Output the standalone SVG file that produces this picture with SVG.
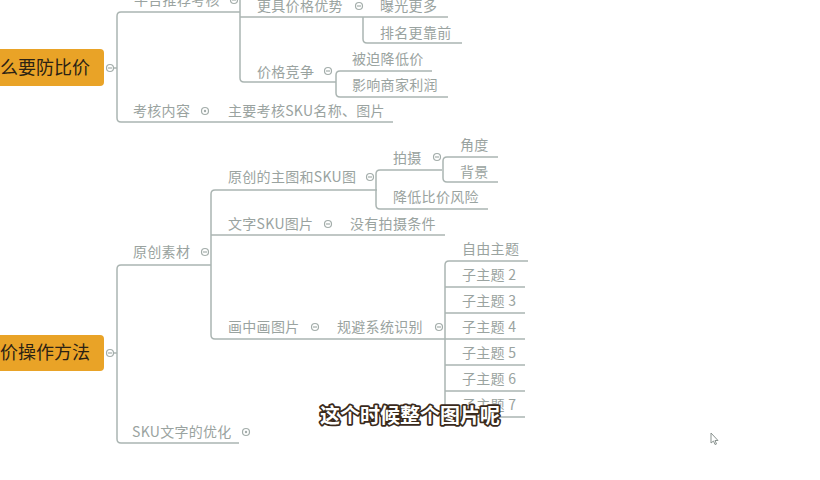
<svg xmlns="http://www.w3.org/2000/svg" width="820" height="480" viewBox="0 0 820 480">
<style>
.t{font-family:"Noto Sans CJK SC","Liberation Sans",sans-serif;font-size:14px;fill:#9aa3a0;letter-spacing:0.3px}
.r{font-family:"Noto Sans CJK SC","Liberation Sans",sans-serif;font-size:18px;fill:#2b2214}
.ln{fill:none;stroke:#abb5b2;stroke-width:1.5}
.box{fill:#E9A327}
.c{fill:#fff;stroke:#a3adaa;stroke-width:1.2}
.m{stroke:#a3adaa;stroke-width:1.2}
.sub{font-family:"Noto Sans CJK SC","Liberation Sans",sans-serif;font-size:20px;font-weight:bold;fill:#fff;stroke:#3a2a1c;stroke-width:3.5;paint-order:stroke;stroke-linejoin:round}
</style>
<defs>
<g id="minus"><circle class="c" r="3.5"/><line class="m" x1="-2" y1="0" x2="2" y2="0"/></g>
<g id="dot"><circle class="c" r="3.5"/><circle r="1.2" fill="#a3adaa"/></g>
</defs>
<rect width="820" height="480" fill="#fff"/>
<g id="connectors">
<path class="ln" d="M113.5 68 H117"/>
<path class="ln" d="M240 12 H121 Q117 12 117 16 V118 Q117 122 121 122 H393"/>
<path class="ln" d="M240 -10 V78 Q240 82 244 82 H336"/>
<path class="ln" d="M240 17 H448"/>
<path class="ln" d="M363 17 V39 Q363 43 367 43 H462"/>
<path class="ln" d="M432 71 H340 Q336 71 336 75 V93 Q336 97 340 97 H448"/>
<path class="ln" d="M113.5 353 H117"/>
<path class="ln" d="M211 265 H121 Q117 265 117 269 V439 Q117 443 121 443 H239"/>
<path class="ln" d="M377 190 H215 Q211 190 211 194 V335 Q211 339 215 339 H445"/>
<path class="ln" d="M211 235 H445"/>
<path class="ln" d="M442 170 H380 Q376 170 376 174 V205 Q376 209 380 209 H488"/>
<path class="ln" d="M498 157 H447 Q443 157 443 161 V178 Q443 182 447 182 H498"/>
<path class="ln" d="M528 261 H449 Q445 261 445 265 V413 Q445 417 449 417 H525"/>
<path class="ln" d="M445 287 H525 M445 313 H525 M445 365 H525 M445 391 H525 M445 339 H525"/>
</g>
<g id="root1"><rect class="box" x="-20" y="49" width="124" height="37" rx="4"/><text class="r" x="90" y="74" text-anchor="end">么要防比价</text><use href="#minus" x="110" y="68"/></g>
<g id="n-pingtai"><text class="t" x="134" y="5">平台推荐考核</text><use href="#minus" x="234" y="0"/></g>
<g id="n-gengju"><text class="t" x="257" y="11">更具价格优势</text><use href="#minus" x="359" y="6"/></g>
<g id="n-baoguang"><text class="t" x="380" y="11">曝光更多</text></g>
<g id="n-paiming"><text class="t" x="380" y="38">排名更靠前</text></g>
<g id="n-jiagejingzheng"><text class="t" x="257" y="77">价格竞争</text><use href="#minus" x="328" y="71"/></g>
<g id="n-beipo"><text class="t" x="352" y="64">被迫降低价</text></g>
<g id="n-yingxiang"><text class="t" x="352" y="90">影响商家利润</text></g>
<g id="n-kaohe"><text class="t" x="133" y="116">考核内容</text><use href="#dot" x="205" y="111"/></g>
<g id="n-zhuyao"><text class="t" x="228" y="116">主要考核SKU名称、图片</text></g>
<g id="root2"><rect class="box" x="-20" y="335" width="124" height="36" rx="4"/><text class="r" x="90" y="359" text-anchor="end">价操作方法</text><use href="#minus" x="110" y="353"/></g>
<g id="n-yuanchuang"><text class="t" x="133" y="257">原创素材</text><use href="#minus" x="205" y="252"/></g>
<g id="n-sku"><text class="t" x="132" y="437">SKU文字的优化</text><use href="#dot" x="246" y="432"/></g>
<g id="n-zhutu"><text class="t" x="228" y="182">原创的主图和SKU图</text><use href="#minus" x="370" y="177"/></g>
<g id="n-paishe"><text class="t" x="393" y="163">拍摄</text><use href="#minus" x="437" y="157"/></g>
<g id="n-jiaodu"><text class="t" x="460" y="150">角度</text></g>
<g id="n-beijing"><text class="t" x="460" y="177">背景</text></g>
<g id="n-jiangdi"><text class="t" x="393" y="202">降低比价风险</text></g>
<g id="n-wenzi"><text class="t" x="228" y="229">文字SKU图片</text><use href="#minus" x="328" y="224"/></g>
<g id="n-meiyou"><text class="t" x="350" y="229">没有拍摄条件</text></g>
<g id="n-huazhonghua"><text class="t" x="228" y="332">画中画图片</text><use href="#minus" x="315" y="327"/></g>
<g id="n-guibi"><text class="t" x="337" y="332">规避系统识别</text><use href="#minus" x="439" y="327"/></g>
<g id="n-ziyou"><text class="t" x="462" y="254">自由主题</text></g>
<g id="n-z2"><text class="t" x="462" y="280">子主题 2</text></g>
<g id="n-z3"><text class="t" x="462" y="306">子主题 3</text></g>
<g id="n-z4"><text class="t" x="462" y="332">子主题 4</text></g>
<g id="n-z5"><text class="t" x="462" y="358">子主题 5</text></g>
<g id="n-z6"><text class="t" x="462" y="384">子主题 6</text></g>
<g id="n-z7"><text class="t" x="462" y="410">子主题 7</text></g>
<text class="sub" x="410" y="423" text-anchor="middle">这个时候整个图片呢</text>
<polygon points="711,433 711,443 713.5,441 715,444.5 716.5,444 715,440.5 718,440.5" fill="#fff" stroke="#8a9390" stroke-width="1"/>
</svg>
